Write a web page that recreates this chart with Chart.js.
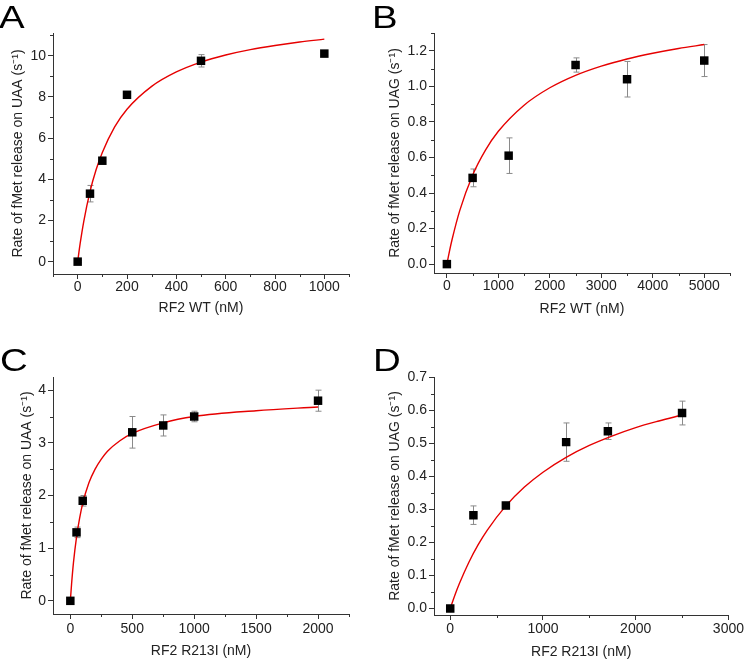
<!DOCTYPE html>
<html>
<head>
<meta charset="utf-8">
<script src="https://cdn.jsdelivr.net/npm/chart.js@4.4.1/dist/chart.umd.min.js"></script>
<style>
  body { margin: 0; background: #fff; }
  #page { position: relative; width: 745px; height: 661px; overflow: hidden; }
  canvas { position: absolute; }
  .tag { position: absolute; font: 32px "Liberation Sans", Arial, sans-serif; line-height: 32px; color: #000;
         transform: scaleX(1.2); transform-origin: left top; }
</style>
</head>
<body>
<div id="page">
  <canvas id="cA" width="372" height="330" style="left:0;top:0"></canvas>
  <canvas id="cB" width="373" height="330" style="left:372px;top:0"></canvas>
  <canvas id="cC" width="372" height="331" style="left:0;top:330px"></canvas>
  <canvas id="cD" width="373" height="331" style="left:372px;top:330px"></canvas>
  <div class="tag" style="left:-1px;top:1px">A</div>
  <div class="tag" style="left:372px;top:1px">B</div>
  <div class="tag" style="left:0;top:344px">C</div>
  <div class="tag" style="left:373px;top:344px">D</div>
</div>
<script>
// panel A: RF2 WT on UAA
const aConc = [0, 50, 100, 200, 500, 1000];
const aRate = [0, 3.3, 4.9, 8.1, 9.75, 10.1];
const aErr = [0.05, 0.4, 0.15, 0.1, 0.3, 0.15];
const aFitX = [0, 10, 25, 50, 75, 100, 150, 200, 300, 400, 500, 600, 700, 800, 900, 1000];
const aFitY = [0, 0.87, 1.97, 3.4, 4.47, 5.3, 6.54, 7.4, 8.51, 9.21, 9.69, 10.03, 10.29, 10.49, 10.66, 10.8];
const aXTicks = [0, 200, 400, 600, 800, 1000];
const aYTicks = [0, 2, 4, 6, 8, 10];

// panel B: RF2 WT on UAG
const bConc = [0, 500, 1200, 2500, 3500, 5000];
const bRate = [0, 0.485, 0.61, 1.12, 1.04, 1.145];
const bErr = [0.01, 0.05, 0.1, 0.04, 0.1, 0.09];
const bFitX = [0, 50, 100, 250, 500, 750, 1000, 1500, 2000, 2500, 3000, 3500, 4000, 4500, 5000];
const bFitY = [0, 0.072, 0.137, 0.301, 0.5, 0.641, 0.747, 0.894, 0.992, 1.062, 1.114, 1.154, 1.186, 1.213, 1.235];
const bXTicks = [0, 1000, 2000, 3000, 4000, 5000];
const bYTicks = [0, 0.2, 0.4, 0.6, 0.8, 1.0, 1.2];

// panel C: RF2 R213I on UAA
const cConc = [0, 50, 100, 500, 750, 1000, 2000];
const cRate = [0, 1.3, 1.9, 3.2, 3.33, 3.5, 3.8];
const cErr = [0.02, 0.1, 0.1, 0.3, 0.2, 0.1, 0.2];
const cFitX = [0, 10, 25, 50, 75, 100, 150, 200, 250, 300, 400, 500, 750, 1000, 1500, 2000];
const cFitY = [0, 0.32, 0.72, 1.21, 1.57, 1.85, 2.24, 2.5, 2.69, 2.84, 3.04, 3.18, 3.38, 3.5, 3.61, 3.68];
const cXTicks = [0, 500, 1000, 1500, 2000];
const cYTicks = [0, 1, 2, 3, 4];

// panel D: RF2 R213I on UAG
const dConc = [0, 250, 600, 1250, 1700, 2500];
const dRate = [0, 0.282, 0.311, 0.503, 0.536, 0.591];
const dErr = [0.005, 0.028, 0.01, 0.058, 0.025, 0.036];
const dFitX = [0, 50, 100, 200, 300, 400, 600, 800, 1000, 1250, 1500, 1750, 2000, 2250, 2500];
const dFitY = [0, 0.04, 0.076, 0.139, 0.192, 0.237, 0.31, 0.367, 0.412, 0.457, 0.493, 0.522, 0.547, 0.567, 0.585];
const dXTicks = [0, 1000, 2000, 3000];
const dYTicks = [0, 0.1, 0.2, 0.3, 0.4, 0.5, 0.6, 0.7];

const FONT = '"Liberation Sans", Arial, sans-serif';
const INK = '#222';

// gray error bars under the markers
const errorBars = {
  id: 'errorBars',
  beforeDatasetsDraw(chart, args, opts) {
    const { ctx, scales: { x, y } } = chart;
    const pts = chart.data.datasets[0].data;
    ctx.save();
    ctx.strokeStyle = '#8a8a8a';
    ctx.lineWidth = 1;
    pts.forEach((p, i) => {
      const e = opts.errors[i];
      if (!e) return;
      const px = Math.round(x.getPixelForValue(p.x)) + 0.5;
      const t = y.getPixelForValue(p.y + e);
      const b = y.getPixelForValue(p.y - e);
      ctx.beginPath();
      ctx.moveTo(px, t); ctx.lineTo(px, b);
      ctx.moveTo(px - 3, t); ctx.lineTo(px + 3, t);
      ctx.moveTo(px - 3, b); ctx.lineTo(px + 3, b);
      ctx.stroke();
    });
    ctx.restore();
  }
};

// short unlabeled ticks between the major ones
const minorTicks = {
  id: 'minorTicks',
  afterDraw(chart, args, opts) {
    const ctx = chart.ctx;
    ctx.save();
    ctx.strokeStyle = '#333';
    ctx.lineWidth = 1;
    ['x', 'y'].forEach(id => {
      const s = chart.scales[id];
      const step = opts[id];
      const majors = s.ticks.map(t => t.value);
      const n0 = Math.ceil(s.min / step - 1e-9), n1 = Math.floor(s.max / step + 1e-9);
      for (let n = n0; n <= n1; n++) {
        const v = n * step;
        if (majors.some(m => Math.abs(m - v) < step / 100)) continue;
        ctx.beginPath();
        if (id === 'x') {
          const px = Math.round(s.getPixelForValue(v)) + 0.5;
          ctx.moveTo(px, s.top); ctx.lineTo(px, s.top + 3);
        } else {
          const py = Math.round(s.getPixelForValue(v)) + 0.5;
          ctx.moveTo(s.right, py); ctx.lineTo(s.right - 3, py);
        }
        ctx.stroke();
      }
    });
    ctx.restore();
  }
};

function makePanel(id, p) {
  const points = p.conc.map((c, i) => ({ x: c, y: p.rate[i] }));
  const fit = p.fitX.map((c, i) => ({ x: c, y: p.fitY[i] }));
  const axis = (ticks, digits, title, tpad, tickPad) => ({
    type: 'linear',
    afterBuildTicks: s => { s.ticks = ticks.map(v => ({ value: v })); },
    grid: { drawOnChartArea: false, drawTicks: true, tickLength: 5, color: '#333' },
    border: { display: true, color: '#333', width: 1 },
    ticks: {
      autoSkip: false, maxRotation: 0, padding: tickPad, color: INK,
      font: { family: FONT, size: 14 },
      callback: v => v.toFixed(digits)
    },
    title: { display: true, text: title, color: INK, font: { family: FONT, size: 14 }, padding: tpad }
  });
  const x = axis(p.xTicks, 0, p.xTitle, { top: 0, bottom: p.xTitlePad }, p.xTickPad);
  x.min = p.xRange[0]; x.max = p.xRange[1];
  x.afterFit = s => { s.height = p.xHeight; };
  const y = axis(p.yTicks, p.yDigits, p.yTitle, { top: p.yTitlePad, bottom: 0 }, 2);
  y.min = p.yRange[0]; y.max = p.yRange[1];
  y.afterFit = s => { s.width = p.yWidth; };

  return new Chart(document.getElementById(id), {
    type: 'scatter',
    data: {
      datasets: [
        { data: points, pointStyle: 'rect', pointRadius: 6, pointBackgroundColor: '#000', pointBorderColor: '#000', pointBorderWidth: 0, showLine: false },
        { data: fit, showLine: true, pointRadius: 0, borderColor: '#e60000', borderWidth: 1.4, cubicInterpolationMode: 'monotone', fill: false }
      ]
    },
    options: {
      responsive: false,
      animation: false,
      devicePixelRatio: 1,
      layout: { padding: p.pad },
      scales: { x, y },
      plugins: {
        legend: { display: false },
        tooltip: { enabled: false },
        errorBars: { errors: p.err },
        minorTicks: p.minor
      }
    },
    plugins: [errorBars, minorTicks]
  });
}

makePanel('cA', {
  conc: aConc, rate: aRate, err: aErr, fitX: aFitX, fitY: aFitY,
  xTicks: aXTicks, yTicks: aYTicks, yDigits: 0,
  xRange: [-100, 1100], yRange: [-0.6, 11.1],
  xTitle: 'RF2 WT (nM)', yTitle: 'Rate of fMet release on UAA (s\u207B\u00B9)',
  pad: { left: 0, top: 33, right: 23, bottom: 0 }, yWidth: 53, xHeight: 56,
  yTitlePad: 10, xTitlePad: 13, xTickPad: 0, minor: { x: 100, y: 1 }
});
makePanel('cB', {
  conc: bConc, rate: bRate, err: bErr, fitX: bFitX, fitY: bFitY,
  xTicks: bXTicks, yTicks: bYTicks, yDigits: 1,
  xRange: [-250, 5500], yRange: [-0.05, 1.3],
  xTitle: 'RF2 WT (nM)', yTitle: 'Rate of fMet release on UAG (s\u207B\u00B9)',
  pad: { left: 0, top: 33, right: 15, bottom: 0 }, yWidth: 62, xHeight: 57,
  yTitlePad: 15, xTitlePad: 12, xTickPad: 0, minor: { x: 500, y: 0.1 }
});
makePanel('cC', {
  conc: cConc, rate: cRate, err: cErr, fitX: cFitX, fitY: cFitY,
  xTicks: cXTicks, yTicks: cYTicks, yDigits: 0,
  xRange: [-140, 2250], yRange: [-0.25, 4.25],
  xTitle: 'RF2 R213I (nM)', yTitle: 'Rate of fMet release on UAA (s\u207B\u00B9)',
  pad: { left: 0, top: 47, right: 23, bottom: 0 }, yWidth: 53, xHeight: 47,
  yTitlePad: 19, xTitlePad: 1, xTickPad: 2, minor: { x: 250, y: 0.5 }
});
makePanel('cD', {
  conc: dConc, rate: dRate, err: dErr, fitX: dFitX, fitY: dFitY,
  xTicks: dXTicks, yTicks: dYTicks, yDigits: 1,
  xRange: [-175, 3000], yRange: [-0.02, 0.7],
  xTitle: 'RF2 R213I (nM)', yTitle: 'Rate of fMet release on UAG (s\u207B\u00B9)',
  pad: { left: 0, top: 47, right: 16, bottom: 0 }, yWidth: 62, xHeight: 46,
  yTitlePad: 15, xTitlePad: 0, xTickPad: 1, minor: { x: 500, y: 0.05 }
});
</script>
</body>
</html>
